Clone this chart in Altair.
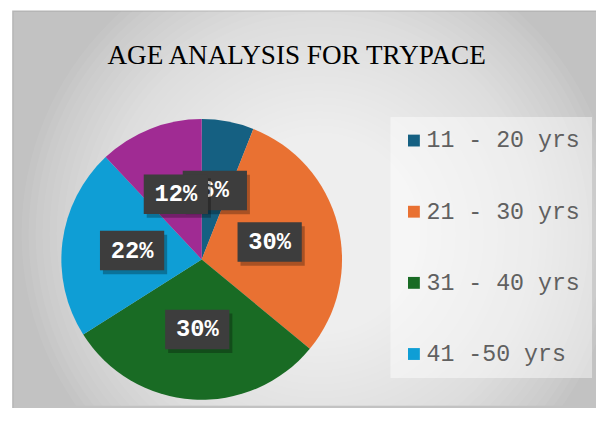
import math
import altair as alt
import pandas as pd

# ---- data ----
labels = ["11 - 20 yrs", "21 - 30 yrs", "31 - 40 yrs", "41 -50 yrs", "51 - 60 yrs"]
values = [6, 30, 30, 22, 12]
colors = ["#156082", "#E97132", "#196B24", "#0F9ED5", "#A02B93"]
legend_labels = labels[:4]
chart_title = "AGE ANALYSIS FOR TRYPACE"

df = pd.DataFrame({"label": labels, "value": values, "idx": list(range(len(labels)))})

# ---- layout constants (view starts at page x=13, y=9) ----
W, H = 590, 399
CX, CY, R = 191, 251, 142
LR = 71
BOX = "M-1,-0.615L1,-0.615L1,0.615L-1,0.615Z"
BOX_SIZE = 65 * 65
EDGE = "#c2c2c2"

frame = pd.DataFrame({"k": [0]})

# background: grey frame lightened towards the middle by soft white discs
bg_base = alt.Chart(frame).mark_rect(
    fill=EDGE, stroke="#b5b5b5", strokeWidth=1.5
).encode(x=alt.value(0), x2=alt.value(W + 4), y=alt.value(0), y2=alt.value(H + 4))

ring_r = list(range(340, 10, -8))
rings = pd.DataFrame({"s": [math.pi * r * r for r in ring_r]})
glow = alt.Chart(rings).mark_point(
    shape="circle", filled=True, color="#ffffff", opacity=0.055, strokeWidth=0, clip=True
).encode(
    size=alt.Size("s:Q", scale=None, legend=None),
    x=alt.value(310),
    y=alt.value(225),
)

title_layer = alt.Chart(pd.DataFrame({"t": [chart_title]})).mark_text(
    font="Liberation Serif", fontSize=27.5, fontWeight="normal", color="#000000",
    align="center", baseline="alphabetic",
).encode(text="t:N", x=alt.value(287), y=alt.value(53))

shadow_df = pd.DataFrame({"s": [math.pi * (R + d) ** 2 for d in (7, 4, 2)]})
pie_shadow = alt.Chart(shadow_df).mark_point(
    shape="circle", filled=True, color="#000000", opacity=0.045, strokeWidth=0
).encode(
    size=alt.Size("s:Q", scale=None, legend=None),
    x=alt.value(CX + 2),
    y=alt.value(CY + 3),
)

pie = alt.Chart(df).mark_arc(radius=R).encode(
    theta=alt.Theta("value:Q", stack=True),
    color=alt.Color(
        "label:N",
        scale=alt.Scale(domain=labels, range=colors),
        sort=labels,
        legend=alt.Legend(
            title=None,
            orient="none",
            legendX=382,
            legendY=107,
            values=legend_labels,
            symbolType="square",
            symbolSize=144,
            symbolStrokeWidth=0,
            labelFont="Liberation Mono",
            labelFontSize=23.5,
            labelColor="#606060",
            labelOffset=1,
            labelLimit=400,
            rowPadding=47,
            padding=12,
            fillColor="rgba(255,255,255,0.45)",
        ),
    ),
    order=alt.Order("idx:Q"),
    x=alt.value(CX),
    y=alt.value(CY),
)

lab = alt.Chart(df).transform_window(
    cum="sum(value)", sort=[alt.SortField("idx")], frame=[None, 0]
).transform_joinaggregate(
    total="sum(value)"
).transform_calculate(
    mid="2*PI*(datum.cum - datum.value/2)/datum.total",
    lx=f"{CX} + {LR}*sin(datum.mid)",
    ly=f"{CY} - {LR}*cos(datum.mid)",
    txt="datum.value + '%'",
)

enc = dict(x=alt.X("lx:Q", scale=None), y=alt.Y("ly:Q", scale=None))


def label_layers(cond):
    src = lab.transform_filter(cond)
    sh = src.mark_point(
        shape=BOX, size=BOX_SIZE, filled=True, color="#000000",
        opacity=0.28, strokeWidth=0, xOffset=3, yOffset=4,
    ).encode(**enc)
    bx = src.mark_point(
        shape=BOX, size=BOX_SIZE, filled=True, color="#3d3d3d",
        opacity=1, strokeWidth=0,
    ).encode(**enc)
    tx = src.mark_text(
        font="Liberation Mono", fontWeight="bold", fontSize=24,
        color="#ffffff", align="center", baseline="middle",
    ).encode(text="txt:N", **enc)
    return [sh, bx, tx]


layers = [bg_base, glow, title_layer, pie_shadow, pie] + label_layers("datum.idx < 4") + label_layers("datum.idx == 4")

chart = alt.layer(*layers).properties(
    width=W,
    height=H,
    autosize=alt.AutoSizeParams(type="none"),
    padding={"left": 5, "top": 1, "right": 0, "bottom": 0},
).configure_view(stroke=None)

chart.save("out.html", embed_options={"renderer": "svg", "actions": False})
